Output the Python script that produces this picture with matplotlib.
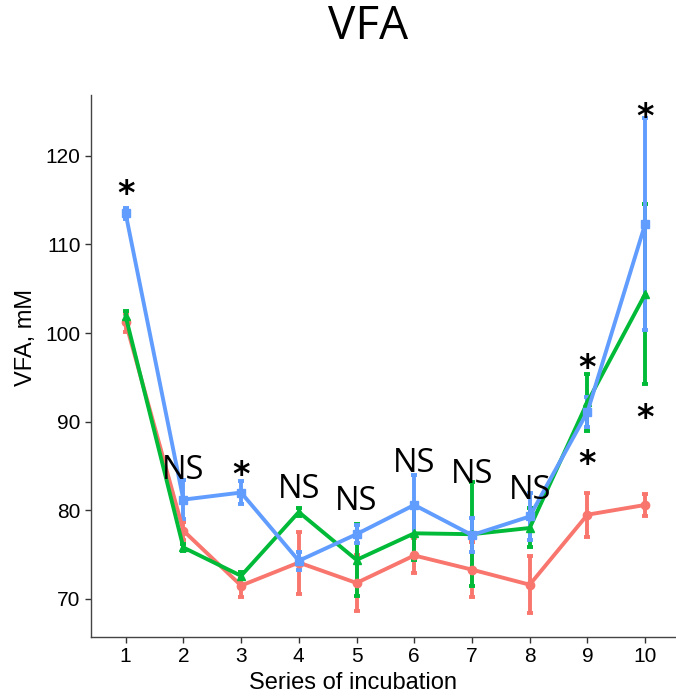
import matplotlib
matplotlib.use("Agg")
import matplotlib.pyplot as plt

series = [1, 2, 3, 4, 5, 6, 7, 8, 9, 10]

red_mean = [101.2, 77.7, 71.5, 74.1, 71.8, 74.9, 73.3, 71.6, 79.5, 80.6]
red_err = [1.1, 1.0, 1.3, 3.5, 3.2, 2.0, 3.1, 3.2, 2.5, 1.2]

green_mean = [101.9, 75.8, 72.6, 79.8, 74.4, 77.4, 77.3, 78.0, 92.2, 104.4]
green_err = [0.6, 0.4, 0.4, 0.5, 4.1, 3.0, 5.9, 2.2, 3.2, 10.2]

blue_mean = [113.5, 81.2, 82.0, 74.3, 77.3, 80.6, 77.2, 79.3, 91.1, 112.3]
blue_err = [0.6, 2.2, 1.3, 1.0, 1.0, 3.4, 1.9, 2.7, 1.7, 12.0]

ann_x = [1, 2, 3, 4, 5, 6, 7, 8, 9, 9, 10, 10]
ann_y = [115.6, 84.5, 83.9, 82.4, 81.0, 85.3, 84.0, 82.2, 96.0, 85.2, 124.3, 90.4]
ann_txt = ["*", "NS", "*", "NS", "NS", "NS", "NS", "NS", "*", "*", "*", "*"]

colors = {"red": "#F8766D", "green": "#00BA38", "blue": "#619CFF"}

fig = plt.figure(figsize=(6.76, 6.98), dpi=100)
ax = fig.add_axes([0.1346, 0.0874, 0.871, 0.777])

for mean, err, c, m in [(red_mean, red_err, colors["red"], "o"),
                        (green_mean, green_err, colors["green"], "^"),
                        (blue_mean, blue_err, colors["blue"], "s")]:
    ax.errorbar(series, mean, yerr=err, color=c, marker=m, markersize=6,
                linewidth=2.8, elinewidth=2.8, capsize=2.5, capthick=2.8)

for x, y, t in zip(ann_x, ann_y, ann_txt):
    if t == "*":
        ax.text(x, y, t, ha="center", va="center", fontsize=24,
                fontweight="bold", family="DejaVu Sans", color="black")
    else:
        ax.text(x, y, t, ha="center", va="center", fontsize=23.5,
                family="Open Sans", color="black")

ax.set_xlim(0.4, 10.6)
ax.set_ylim(65.7, 126.9)
ax.set_xticks(series)
ax.set_yticks([70, 80, 90, 100, 110, 120])
ax.tick_params(labelsize=15, colors="#333333", length=4, width=1)
for lab in ax.get_xticklabels() + ax.get_yticklabels():
    lab.set_family("Liberation Sans")
    lab.set_color("black")
for s in ["top", "right"]:
    ax.spines[s].set_visible(False)
for s in ["left", "bottom"]:
    ax.spines[s].set_color("#444444")
    ax.spines[s].set_linewidth(1.0)

ax.set_xlabel("Series of incubation", fontsize=17, family="Liberation Sans")
ax.xaxis.set_label_coords(0.445, -0.064)
ax.set_ylabel("VFA, mM", fontsize=17, family="Liberation Sans")
ax.yaxis.set_label_coords(-0.092, 0.552)
fig.text(0.545, 0.962, "VFA", ha="center", va="center", fontsize=33, family="Open Sans")

fig.savefig("out.png", dpi=100)
